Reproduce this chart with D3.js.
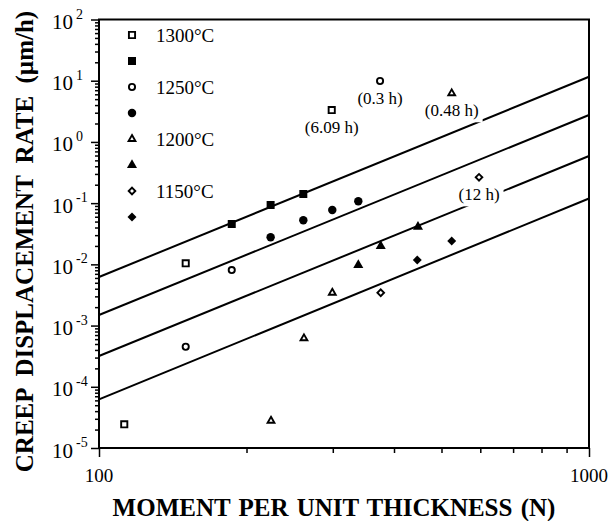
<!DOCTYPE html>
<html>
<head>
<meta charset="utf-8">
<script src="https://cdn.jsdelivr.net/npm/d3@7"></script>
<style>
  body { margin: 0; background: #fff; }
  svg { display: block; }
  text { font-family: "Liberation Serif", "Times New Roman", Times, serif; fill: #000; }
</style>
</head>
<body>
<svg id="chart" width="610" height="521"></svg>
<script>
// Axis ticks
const xMajorTicks = [100, 1000];
const xMinorTicks = [200, 300, 400, 500, 600, 700, 800, 900];
const yDecades = [-5, -4, -3, -2, -1, 0, 1, 2];

// Legend entries (temperature, open / solid symbol share one row pair)
const legendLabels = ["1300°C", "1250°C", "1200°C", "1150°C"];

// Measured creep displacement rate (µm/h) vs moment per unit thickness (N)
const open1300  = [[112.6, 2.44e-5], [150.3, 0.0104], [298.5, 3.32]];
const solid1300 = [[186.6, 0.0456], [224.0, 0.0932], [261.2, 0.141]];
const open1250  = [[150.3, 4.51e-4], [186.6, 0.00808], [374.6, 9.89]];
const solid1250 = [[224.0, 0.0277], [261.2, 0.0524], [299.3, 0.0773], [338.2, 0.107]];
const open1200  = [[224.4, 2.79e-5], [262.0, 6.19e-4], [299.3, 0.00344], [524.6, 6.23]];
const solid1200 = [[338.2, 0.00976], [375.8, 0.01995], [447.7, 0.0412]];
const open1150  = [[375.8, 0.00344], [596.4, 0.264]];
const solid1150 = [[446.2, 0.01178], [524.6, 0.02406]];

// Power-law fit lines, end points at 100 N and 1000 N
const fitLine1 = [[100, 6.21e-3], [1000, 11.6]];
const fitLine2 = [[100, 1.49e-3], [1000, 2.75]];
const fitLine3 = [[100, 3.18e-4], [1000, 0.589]];
const fitLine4 = [[100, 6.24e-5], [1000, 0.119]];

// Test durations written under selected points
const noteTexts = ["(6.09 h)", "(0.3 h)", "(0.48 h)", "(12 h)"];
const notePoints = [[298.5, 3.32], [374.6, 9.89], [524.6, 6.23], [596.4, 0.264]];

const svg = d3.select("#chart");
const x = d3.scaleLog().domain([100, 1000]).range([99, 589]);
const y = d3.scaleLog().domain([1e-5, 1e2]).range([448, 19.5]);

// Fit lines
const line = d3.line().x(d => x(d[0])).y(d => y(d[1]));
svg.append("g").selectAll("path")
  .data([fitLine1, fitLine2, fitLine3, fitLine4])
  .join("path")
  .attr("d", line)
  .attr("fill", "none")
  .attr("stroke", "#000")
  .attr("stroke-width", 2);

// Duration notes with white backing that breaks the lines beneath
const notes = svg.append("g");
noteTexts.forEach((t, i) => {
  const p = notePoints[i];
  const g = notes.append("g");
  const txt = g.append("text")
    .attr("x", x(p[0]))
    .attr("y", y(p[1]) + 23)
    .attr("text-anchor", "middle")
    .attr("font-size", 17)
    .text(t);
  const bb = txt.node().getBBox();
  g.insert("rect", "text")
    .attr("x", bb.x - 4).attr("y", bb.y - 2)
    .attr("width", bb.width + 8).attr("height", bb.height + 4)
    .attr("fill", "#fff");
});

// Symbols: open ones are small with a heavy outline, solid ones slightly larger
const sym = (type, size) => d3.symbol().type(type).size(size)();
const shapeDefs = {
  square:   { type: d3.symbolSquare,   open: 38, solid: 64, rot: 0 },
  circle:   { type: d3.symbolCircle,   open: 30, solid: 56, rot: 0 },
  triangle: { type: d3.symbolTriangle, open: 20, solid: 44, rot: 0 },
  diamond:  { type: d3.symbolSquare,   open: 22, solid: 40, rot: 45 }
};

function drawSeries(data, shape, solid) {
  const st = shapeDefs[shape];
  svg.append("g").selectAll("path")
    .data(data)
    .join("path")
    .attr("d", sym(st.type, solid ? st.solid : st.open))
    .attr("transform", d => `translate(${x(d[0])},${y(d[1])}) rotate(${st.rot})`)
    .attr("fill", solid ? "#000" : "#fff")
    .attr("stroke", "#000")
    .attr("stroke-width", solid ? 0 : 1.9);
}
drawSeries(open1300, "square", false);
drawSeries(solid1300, "square", true);
drawSeries(open1250, "circle", false);
drawSeries(solid1250, "circle", true);
drawSeries(open1200, "triangle", false);
drawSeries(solid1200, "triangle", true);
drawSeries(open1150, "diamond", false);
drawSeries(solid1150, "diamond", true);

// Legend
const shapes = ["square", "circle", "triangle", "diamond"];
const legend = svg.append("g");
const rowStep = 26;
legendLabels.forEach((lab, i) => {
  const st = shapeDefs[shapes[i]];
  const y0 = 35 + i * 2 * rowStep;
  legend.append("path")
    .attr("d", sym(st.type, st.open))
    .attr("transform", `translate(132,${y0}) rotate(${st.rot})`)
    .attr("fill", "#fff").attr("stroke", "#000").attr("stroke-width", 1.9);
  legend.append("path")
    .attr("d", sym(st.type, st.solid))
    .attr("transform", `translate(132,${y0 + rowStep}) rotate(${st.rot})`)
    .attr("fill", "#000");
  legend.append("text")
    .attr("x", 156).attr("y", y0 + 6.5)
    .attr("font-size", 19)
    .text(lab);
});

// Frame
svg.append("rect")
  .attr("x", x(100)).attr("y", y(1e2))
  .attr("width", x(1000) - x(100)).attr("height", y(1e-5) - y(1e2))
  .attr("fill", "none").attr("stroke", "#000").attr("stroke-width", 2);

// Y axis ticks (outward)
const yMajor = yDecades.map(e => Math.pow(10, e));
const yMinor = [];
yDecades.slice(0, -1).forEach(e => { for (let k = 2; k <= 9; k++) yMinor.push(k * Math.pow(10, e)); });
const yAxisMajor = d3.axisLeft(y).tickValues(yMajor).tickSize(8).tickFormat("");
const yAxisMinor = d3.axisLeft(y).tickValues(yMinor).tickSize(4).tickFormat("");
[yAxisMajor, yAxisMinor].forEach(ax => {
  const g = svg.append("g").attr("transform", `translate(${x(100)},0)`).call(ax);
  g.select(".domain").remove();
  g.selectAll("line").attr("stroke-width", 1.5);
});

// Y tick labels: 10 with superscript exponent
const yLabels = svg.append("g");
yDecades.forEach(e => {
  const t = yLabels.append("text")
    .attr("x", 52).attr("y", y(Math.pow(10, e)) + 9.5)
    .attr("font-size", 21);
  t.append("tspan").text("10");
  t.append("tspan").attr("dx", 3).attr("dy", -10.5).attr("font-size", 14)
    .text(e < 0 ? "-" + Math.abs(e) : String(e));
});

// X axis ticks (outward)
const xAxisMajor = d3.axisBottom(x).tickValues(xMajorTicks).tickSize(9).tickFormat("");
const xAxisMinor = d3.axisBottom(x).tickValues(xMinorTicks).tickSize(5).tickFormat("");
[xAxisMajor, xAxisMinor].forEach(ax => {
  const g = svg.append("g").attr("transform", `translate(0,${y(1e-5)})`).call(ax);
  g.select(".domain").remove();
  g.selectAll("line").attr("stroke-width", 1.5);
});
svg.append("g").selectAll("text")
  .data(xMajorTicks)
  .join("text")
  .attr("x", d => x(d))
  .attr("y", 482)
  .attr("text-anchor", "middle")
  .attr("font-size", 19)
  .text(d => String(d));

// Axis titles
svg.append("text")
  .attr("x", 334).attr("y", 516)
  .attr("text-anchor", "middle")
  .attr("font-size", 25).attr("font-weight", "bold")
  .attr("word-spacing", 2)
  .text("MOMENT PER UNIT THICKNESS (N)");
svg.append("text")
  .attr("transform", "translate(33,241.5) rotate(-90)")
  .attr("text-anchor", "middle")
  .attr("font-size", 25).attr("font-weight", "bold")
  .attr("word-spacing", 6)
  .text("CREEP DISPLACEMENT RATE (µm/h)");
</script>
</body>
</html>
